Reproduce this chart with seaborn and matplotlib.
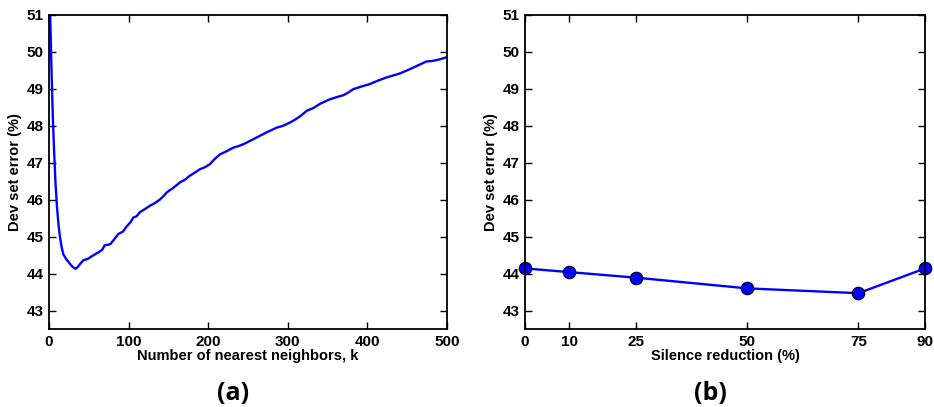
import matplotlib
matplotlib.use("Agg")
import matplotlib.pyplot as plt
from matplotlib import font_manager
import seaborn as sns
import numpy as np

# Panel (a): dev set error vs number of nearest neighbours k
k_values = [1, 2, 3, 4, 5, 6, 8, 10, 12, 14, 16, 18, 20, 22, 25, 28, 31, 33.5, 36, 39, 43,
            46, 49, 53, 56, 60, 64, 67, 70, 74, 77, 82, 87, 93, 97.6, 102, 106, 110, 114,
            120, 127, 133, 139, 144, 148, 156, 164.6, 170, 177, 183, 190, 196, 202, 208,
            215, 222, 231.6, 238, 244, 255, 265, 275, 286, 294, 300, 307, 315, 324, 332,
            340, 347, 353, 362, 370, 376, 382, 392, 403, 413, 424, 432, 441, 452, 462,
            468, 474, 483, 491, 500]
error_k = [51.3, 50.5, 49.6, 48.8, 48.1, 47.5, 46.5, 45.8, 45.3, 44.95, 44.7, 44.52,
           44.45, 44.38, 44.3, 44.22, 44.16, 44.13, 44.18, 44.26, 44.36, 44.38, 44.4,
           44.46, 44.5, 44.55, 44.6, 44.65, 44.77, 44.78, 44.8, 44.93, 45.07, 45.14,
           45.28, 45.38, 45.52, 45.55, 45.66, 45.74, 45.84, 45.91, 46.0, 46.1, 46.2,
           46.32, 46.47, 46.53, 46.65, 46.73, 46.83, 46.88, 46.96, 47.1, 47.23, 47.3,
           47.41, 47.45, 47.5, 47.62, 47.73, 47.84, 47.95, 48.0, 48.06, 48.14, 48.25,
           48.41, 48.48, 48.59, 48.66, 48.72, 48.78, 48.83, 48.9, 48.99, 49.06, 49.13,
           49.22, 49.31, 49.36, 49.42, 49.52, 49.62, 49.68, 49.74, 49.76, 49.8, 49.86]

# Panel (b): dev set error vs silence reduction
silence_pct = [0, 10, 25, 50, 75, 90]
error_silence = [44.14, 44.04, 43.89, 43.60, 43.47, 44.14]

x_ticks_a = [0, 100, 200, 300, 400, 500]
y_ticks = [43, 44, 45, 46, 47, 48, 49, 50, 51]

sns.set_theme(style="white")
plt.rcParams['font.family'] = ['Liberation Sans', 'DejaVu Sans']
plt.rcParams['text.color'] = 'black'
plt.rcParams['axes.labelcolor'] = 'black'


def bold_font(size):
    path = None
    for f in font_manager.fontManager.ttflist:
        if f.name == 'Liberation Sans' and f.weight in (700, 'bold') and f.style == 'normal':
            path = f.fname
            break
    if path is None:
        return font_manager.FontProperties(family='DejaVu Sans', weight='bold', size=size)
    return font_manager.FontProperties(fname=path, size=size)


tick_fp = bold_font(11)
label_fp = bold_font(10.5)

fig = plt.figure(figsize=(9.34, 4.07), dpi=100)
ax1 = fig.add_axes([0.0525, 0.1916, 0.4261, 0.7716])
ax2 = fig.add_axes([0.5621, 0.1916, 0.4283, 0.7716])

sns.lineplot(x=k_values, y=error_k, ax=ax1, color="#0000ff", linewidth=1.7)
sns.lineplot(x=silence_pct, y=error_silence, ax=ax2, color="#0000ff", linewidth=1.7,
             marker="o", markersize=9, markerfacecolor="#0000ff",
             markeredgecolor="black", markeredgewidth=0.8)

for ax in (ax1, ax2):
    ax.set_ylim(42.5, 51)
    ax.set_yticks(y_ticks)
    ax.set_yticklabels([str(v) for v in y_ticks], fontproperties=tick_fp, color="black")
    ax.tick_params(direction="in", length=5, width=1, top=True, right=True,
                   bottom=True, left=True, colors="black", pad=4)
    for s in ax.spines.values():
        s.set_color("black")
        s.set_linewidth(1.3)
    ax.set_ylabel("Dev set error (%)", fontproperties=label_fp, color="black", labelpad=3)
    ax.grid(False)

ax1.set_xlim(0, 500)
ax1.set_xticks(x_ticks_a)
ax1.set_xticklabels([str(v) for v in x_ticks_a], fontproperties=tick_fp, color="black")
ax1.set_xlabel("Number of nearest neighbors, k", fontproperties=label_fp, color="black", labelpad=0)

ax2.set_xlim(0, 90)
ax2.set_xticks(silence_pct)
ax2.set_xticklabels([str(v) for v in silence_pct], fontproperties=tick_fp, color="black")
ax2.set_xlabel("Silence reduction (%)", fontproperties=label_fp, color="black", labelpad=0)
for line in ax2.lines:
    line.set_clip_on(False)

fig.text(233 / 934, 1 - 393 / 407, "(a)", ha="center", va="center", color="black",
         fontsize=18, fontweight="bold", family=["Open Sans", "DejaVu Sans"])
fig.text(710 / 934, 1 - 393 / 407, "(b)", ha="center", va="center", color="black",
         fontsize=18, fontweight="bold", family=["Open Sans", "DejaVu Sans"])

fig.savefig("out.png", dpi=100)
